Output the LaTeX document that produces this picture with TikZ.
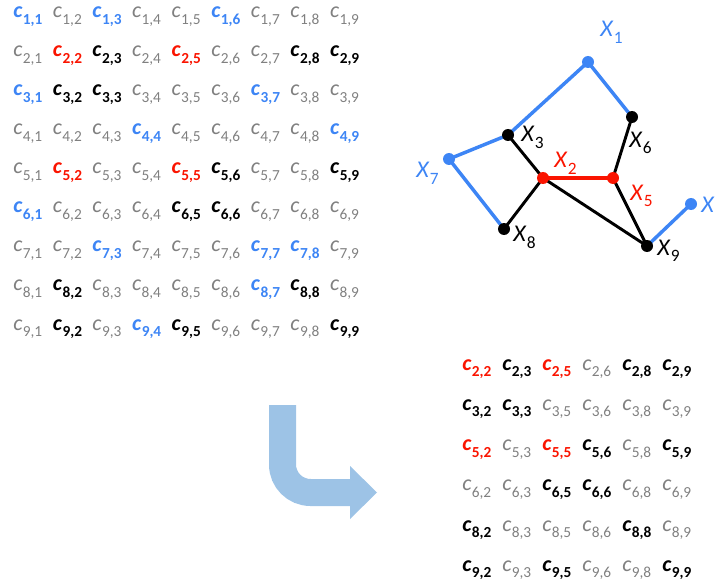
\documentclass[tikz,border=0pt]{standalone}
\usepackage{fontspec}
\setmainfont{Carlito}
\usepackage{xcolor}
\usetikzlibrary{backgrounds}
\definecolor{cblue}{RGB}{61,133,245}
\definecolor{cred}{RGB}{250,20,0}
\definecolor{cgray}{RGB}{128,128,128}
\definecolor{arrowblue}{RGB}{157,195,230}
\newcommand{\cc}[2]{\textit{c}\kern0.3pt\raisebox{-4.8pt}{\fontsize{11.5}{11.5}\selectfont #1,#2}}
\newcommand{\xl}[1]{\textit{X}\kern0.3pt\raisebox{-5pt}{\fontsize{13}{13}\selectfont #1}}

\tikzset{
  ent/.style={inner sep=0pt, anchor=base west, font=\fontsize{16.5}{16.5}\selectfont},
  entg/.style={ent, text=cgray},
  entk/.style={ent, text=black, font=\fontsize{16.5}{16.5}\selectfont\bfseries},
  entb/.style={ent, text=cblue, font=\fontsize{16.5}{16.5}\selectfont\bfseries},
  entr/.style={ent, text=cred, font=\fontsize{16.5}{16.5}\selectfont\bfseries},
  dot/.style={circle, inner sep=0pt, minimum size=9pt, fill=#1},
  vlabel/.style={inner sep=0pt, anchor=base west, text=#1, font=\fontsize{18}{18}\selectfont},
  bedge/.style={line width=2.6pt, cblue},
  kedge/.style={line width=2.2pt, black},
  redge/.style={line width=2.6pt, cred}
}

\begin{document}
\begin{tikzpicture}[x=0.75pt, y=-0.75pt]
  \useasboundingbox (0,0) rectangle (715,585);
  \clip (0,0) rectangle (715,585);

  % full matrix
  \foreach \i/\row in {1/{b,g,b,g,g,b,g,g,g}, 2/{g,r,k,g,r,g,g,k,k},
      3/{b,k,k,g,g,g,b,g,g}, 4/{g,g,g,b,g,g,g,g,b}, 5/{g,r,g,g,r,k,g,g,k},
      6/{b,g,g,g,k,k,g,g,g}, 7/{g,g,b,g,g,g,b,b,g}, 8/{g,k,g,g,g,g,b,k,g},
      9/{g,k,g,b,k,g,g,g,k}}{
    \foreach \t [count=\j] in \row {
      \node[ent\t] (c\i\j) at ({13+39.6*(\j-1)}, {18+39*(\i-1)}) {\cc{\i}{\j}};
    }
  }

  % reduced matrix
  \foreach \i/\row [count=\a] in {2/{r/2,k/3,r/5,g/6,k/8,k/9},
      3/{k/2,k/3,g/5,g/6,g/8,g/9}, 5/{r/2,g/3,r/5,k/6,g/8,k/9},
      6/{g/2,g/3,k/5,k/6,g/8,g/9}, 8/{k/2,g/3,g/5,g/6,k/8,g/9},
      9/{k/2,g/3,k/5,g/6,g/8,k/9}}{
    \foreach \t/\j [count=\b] in \row {
      \node[ent\t] (d\i\j) at ({462+40*(\b-1)}, {370+40.3*(\a-1)}) {\cc{\i}{\j}};
    }
  }

  % graph
  \node[dot=cblue] (x1) at (588,62) {};
  \node[dot=cred]  (x2) at (543,178) {};
  \node[dot=black] (x3) at (508,135) {};
  \node[dot=cblue] (x4) at (691,204) {};
  \node[dot=cred]  (x5) at (613,178) {};
  \node[dot=black] (x6) at (632,117) {};
  \node[dot=cblue] (x7) at (449,159) {};
  \node[dot=black] (x8) at (504,229) {};
  \node[dot=black] (x9) at (647,246) {};

  \begin{pgfonlayer}{background}
    \draw[bedge] (x7.center) -- (x3.center) -- (x1.center) -- (x6.center);
    \draw[bedge] (x7.center) -- (x8.center);
    \draw[bedge] (x9.center) -- (x4.center);
    \draw[kedge] (x3.center) -- (x2.center) -- (x8.center);
    \draw[kedge] (x2.center) -- (x9.center) -- (x5.center) -- (x6.center);
    \draw[redge] (x2.center) -- (x5.center);
  \end{pgfonlayer}

  \node[vlabel=cblue] (l1) at (600,37)  {\xl{1}};
  \node[vlabel=cred]  (l2) at (554,168) {\xl{2}};
  \node[vlabel=black] (l3) at (521,142) {\xl{3}};
  \node[vlabel=cblue] (l4) at (701,213) {\xl{4}};
  \node[vlabel=cred]  (l5) at (630,200) {\xl{5}};
  \node[vlabel=black] (l6) at (629,147) {\xl{6}};
  \node[vlabel=cblue] (l7) at (416,178) {\xl{7}};
  \node[vlabel=black] (l8) at (513,242) {\xl{8}};
  \node[vlabel=black] (l9) at (657,255) {\xl{9}};

  % bent arrow
  \draw[arrowblue, line width=20.25pt, rounded corners=21pt]
    (282.5,405) -- (282.5,492.5) -- (351,492.5);
  \fill[arrowblue] (350,466) -- (377,492.5) -- (350,519) -- cycle;
\end{tikzpicture}
\end{document}
